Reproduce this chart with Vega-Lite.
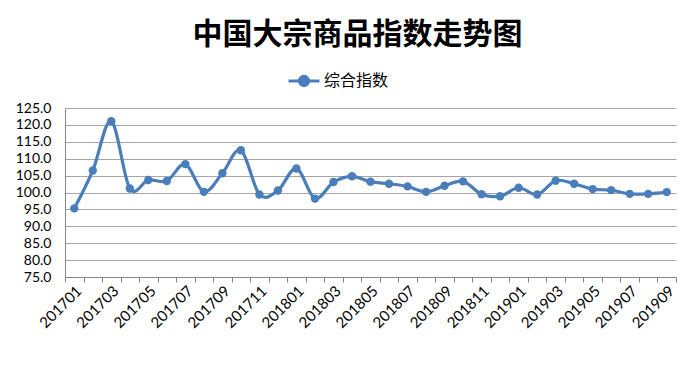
{
  "$schema": "https://vega.github.io/schema/vega-lite/v6.json",
  "width": 611,
  "height": 169,
  "autosize": "none",
  "padding": {"left": 65, "top": 108, "right": 15, "bottom": 90},
  "background": "white",
  "title": {
    "text": "中国大宗商品指数走势图",
    "font": "Noto Sans CJK SC",
    "fontSize": 30,
    "fontWeight": "bold",
    "color": "#000000",
    "anchor": "middle",
    "dx": -13,
    "offset": 14
  },
  "data": {
    "values": [
      {"month": "201701", "value": 95.3, "series": "综合指数"},
      {"month": "201702", "value": 106.5, "series": "综合指数"},
      {"month": "201703", "value": 121.1, "series": "综合指数"},
      {"month": "201704", "value": 101.2, "series": "综合指数"},
      {"month": "201705", "value": 103.7, "series": "综合指数"},
      {"month": "201706", "value": 103.4, "series": "综合指数"},
      {"month": "201707", "value": 108.4, "series": "综合指数"},
      {"month": "201708", "value": 100.2, "series": "综合指数"},
      {"month": "201709", "value": 105.7, "series": "综合指数"},
      {"month": "201710", "value": 112.5, "series": "综合指数"},
      {"month": "201711", "value": 99.4, "series": "综合指数"},
      {"month": "201712", "value": 100.6, "series": "综合指数"},
      {"month": "201801", "value": 107.1, "series": "综合指数"},
      {"month": "201802", "value": 98.2, "series": "综合指数"},
      {"month": "201803", "value": 103.1, "series": "综合指数"},
      {"month": "201804", "value": 104.8, "series": "综合指数"},
      {"month": "201805", "value": 103.2, "series": "综合指数"},
      {"month": "201806", "value": 102.6, "series": "综合指数"},
      {"month": "201807", "value": 101.8, "series": "综合指数"},
      {"month": "201808", "value": 100.2, "series": "综合指数"},
      {"month": "201809", "value": 102.0, "series": "综合指数"},
      {"month": "201810", "value": 103.3, "series": "综合指数"},
      {"month": "201811", "value": 99.5, "series": "综合指数"},
      {"month": "201812", "value": 98.9, "series": "综合指数"},
      {"month": "201901", "value": 101.4, "series": "综合指数"},
      {"month": "201902", "value": 99.4, "series": "综合指数"},
      {"month": "201903", "value": 103.5, "series": "综合指数"},
      {"month": "201904", "value": 102.6, "series": "综合指数"},
      {"month": "201905", "value": 101.0, "series": "综合指数"},
      {"month": "201906", "value": 100.7, "series": "综合指数"},
      {"month": "201907", "value": 99.6, "series": "综合指数"},
      {"month": "201908", "value": 99.6, "series": "综合指数"},
      {"month": "201909", "value": 100.1, "series": "综合指数"}
    ]
  },
  "encoding": {
    "y": {
      "field": "value",
      "type": "quantitative",
      "scale": {"domain": [75, 125], "nice": false, "zero": false},
      "axis": {
        "title": null,
        "values": [75, 80, 85, 90, 95, 100, 105, 110, 115, 120, 125],
        "format": ".1f",
        "labelFont": "Lato",
        "labelFontSize": 14,
        "labelColor": "#000000",
        "labelPadding": 14,
        "ticks": false,
        "domainColor": "#868686",
        "gridColor": "#A6A6A6",
        "gridWidth": 1
      }
    },
    "color": {
      "field": "series",
      "type": "nominal",
      "scale": {"range": ["#4A7EBB"]},
      "legend": {
        "title": null,
        "orient": "none",
        "legendX": 222,
        "legendY": -44,
        "symbolType": "M-1,0H1M-0.3,0A0.3,0.3 0 1,1 0.3,0A0.3,0.3 0 1,1 -0.3,0Z",
        "symbolSize": 961,
        "symbolStrokeWidth": 3,
        "symbolFillColor": "#4A7EBB",
        "symbolStrokeColor": "#4A7EBB",
        "symbolOpacity": 1,
        "labelFont": "Noto Sans CJK SC",
        "labelFontSize": 16,
        "labelColor": "#000000",
        "labelOffset": 3
      }
    }
  },
  "layer": [
    {
      "mark": {"type": "line", "interpolate": "cardinal", "strokeWidth": 3.2},
      "encoding": {
        "x": {
          "field": "month",
          "type": "ordinal",
          "scale": {"type": "band", "paddingInner": 0, "paddingOuter": 0},
          "axis": {
            "orient": "bottom",
            "title": null,
            "values": ["201701", "201703", "201705", "201707", "201709", "201711", "201801", "201803", "201805", "201807", "201809", "201811", "201901", "201903", "201905", "201907", "201909"],
            "labelAngle": -45,
            "labelFont": "Lato",
            "labelFontSize": 15,
            "labelColor": "#000000",
            "labelPadding": 6,
            "ticks": false,
            "domain": false,
            "grid": false
          }
        }
      }
    },
    {
      "mark": {"type": "point", "filled": true, "size": 70, "opacity": 1},
      "encoding": {
        "x": {
          "field": "month",
          "type": "ordinal",
          "scale": {"type": "band", "paddingInner": 0, "paddingOuter": 0},
          "axis": {
            "orient": "bottom",
            "title": null,
            "tickBand": "extent",
            "labels": false,
            "domainColor": "#868686",
            "tickColor": "#868686",
            "tickSize": 5,
            "grid": false
          }
        }
      }
    }
  ],
  "resolve": {"axis": {"x": "independent"}},
  "config": {
    "view": {"stroke": "transparent"}
  }
}
